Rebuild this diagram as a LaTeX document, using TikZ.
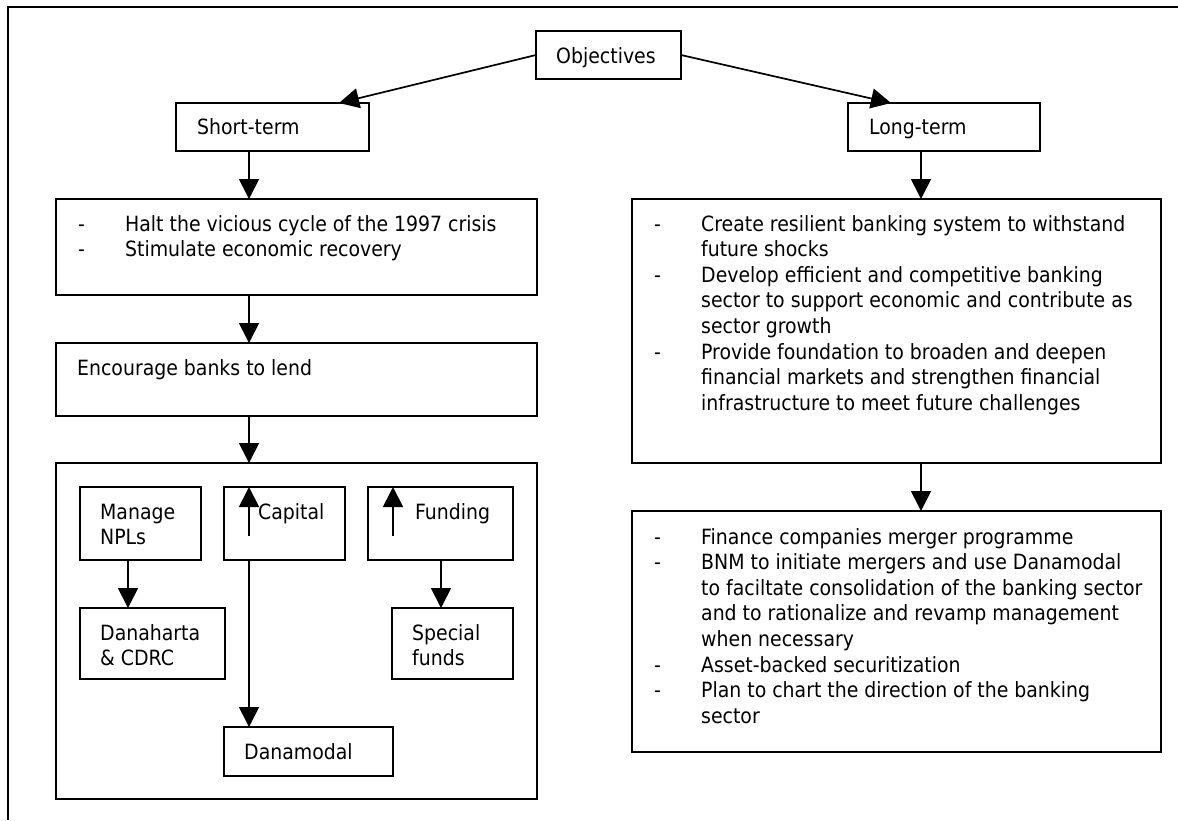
\documentclass[tikz,border=0pt]{standalone}
\usepackage{fontspec}
\setmainfont{DejaVu Sans Condensed}
\usetikzlibrary{arrows.meta}

% dash-and-text lists; [t] keeps the first row on the node baseline
\newcommand{\itemrows}[1]{\begin{tabular}[t]{@{}p{47pt}@{}l@{}}#1\end{tabular}}
\newcommand{\plainrows}[1]{\begin{tabular}[t]{@{}l@{}}#1\end{tabular}}

\begin{document}
\begin{tikzpicture}[x=1pt,y=-1pt,
  txt/.style={font=\fontsize{21pt}{25.6pt}\selectfont},
  box/.style={draw,line width=1.7pt,anchor=north west,inner sep=0pt,outer sep=0pt},
  label/.style={txt,anchor=base west,inner sep=0pt},
  arr/.style={line width=1.7pt,-{Triangle[width=20pt,length=20pt]}},
  frame/.style={line width=2pt}]
\useasboundingbox (0,0) rectangle (1178,820);

% outer frame (top and left edges)
\draw[frame] (8,820) -- (8,7) -- (1178,7);

% axes shared by vertical connectors
\coordinate (axL) at (249,0);
\coordinate (axR) at (921,0);
\coordinate (axN) at (128,0);
\coordinate (axF) at (441,0);
\coordinate (axU) at (393,0);
\coordinate (tipS) at (339,0);
\coordinate (tipG) at (891,0);

% boxes
\node[box,minimum width=145pt,minimum height=48pt] (obj) at (536,31) {};
\node[box,minimum width=193pt,minimum height=48pt] (st) at (176,103) {};
\node[box,minimum width=192pt,minimum height=48pt] (lt) at (848,103) {};
\node[box,minimum width=481pt,minimum height=96pt] (halt) at (56,199) {};
\node[box,minimum width=481pt,minimum height=73pt] (enc) at (56,343) {};
\node[box,minimum width=481pt,minimum height=336pt] (tools) at (56,463) {};
\node[box,minimum width=121pt,minimum height=73pt] (mng) at (80,487) {};
\node[box,minimum width=121pt,minimum height=73pt] (cap) at (224,487) {};
\node[box,minimum width=145pt,minimum height=73pt] (fund) at (368,487) {};
\node[box,minimum width=145pt,minimum height=71pt] (dh) at (80,608) {};
\node[box,minimum width=121pt,minimum height=71pt] (sf) at (392,608) {};
\node[box,minimum width=169pt,minimum height=49pt] (dm) at (224,727) {};
\node[box,minimum width=529pt,minimum height=264pt] (big) at (632,199) {};
\node[box,minimum width=529pt,minimum height=241pt] (merge) at (632,511) {};

% texts
\node[label] (objT) at (556,63) {Objectives};
\node[label] (stT) at (197,134) {Short-term};
\node[label] (ltT) at (869,134) {Long-term};
\node[label] (haltT) at (78,231) {\itemrows{-&Halt the vicious cycle of the 1997 crisis\\
-&Stimulate economic recovery}};
\node[label] (encT) at (77,375) {Encourage banks to lend};
\node[label] (mngT) at (100,519) {\plainrows{Manage\\NPLs}};
\node[label] (capT) at (258,519) {Capital};
\node[label] (fundT) at (415,519) {Funding};
\node[label] (dhT) at (100,640) {\plainrows{Danaharta\\\& CDRC}};
\node[label] (sfT) at (412,640) {\plainrows{Special\\funds}};
\node[label] (dmT) at (244,759) {Danamodal};
\node[label] (bigT) at (654,231) {\itemrows{-&Create resilient banking system to withstand\\
&future shocks\\
-&Develop efficient and competitive banking\\
&sector to support economic and contribute as\\
&sector growth\\
-&Provide foundation to broaden and deepen\\
&financial markets and strengthen financial\\
&infrastructure to meet future challenges}};
\node[label] (mergeT) at (654,544) {\itemrows{-&Finance companies merger programme\\
-&BNM to initiate mergers and use Danamodal\\
&to faciltate consolidation of the banking sector\\
&and to rationalize and revamp management\\
&when necessary\\
-&Asset-backed securitization\\
-&Plan to chart the direction of the banking\\
&sector}};

% connectors
\draw[arr] (obj.west) -- (st.north -| tipS);
\draw[arr] (obj.east) -- (lt.north -| tipG);
\draw[arr] (st.south -| axL) -- (halt.north -| axL);
\draw[arr] (halt.south -| axL) -- (enc.north -| axL);
\draw[arr] (enc.south -| axL) -- (tools.north -| axL);
\draw[arr] (mng.south -| axN) -- (dh.north -| axN);
\draw[arr] (cap.south -| axL) -- (dm.north -| axL);
\draw[arr] (fund.south -| axF) -- (sf.north -| axF);
\draw[arr] (cap.north -| axL) ++(0,49) -- (cap.north -| axL);
\draw[arr] (fund.north -| axU) ++(0,49) -- (fund.north -| axU);
\draw[arr] (lt.south -| axR) -- (big.north -| axR);
\draw[arr] (big.south -| axR) -- (merge.north -| axR);
\end{tikzpicture}
\end{document}
